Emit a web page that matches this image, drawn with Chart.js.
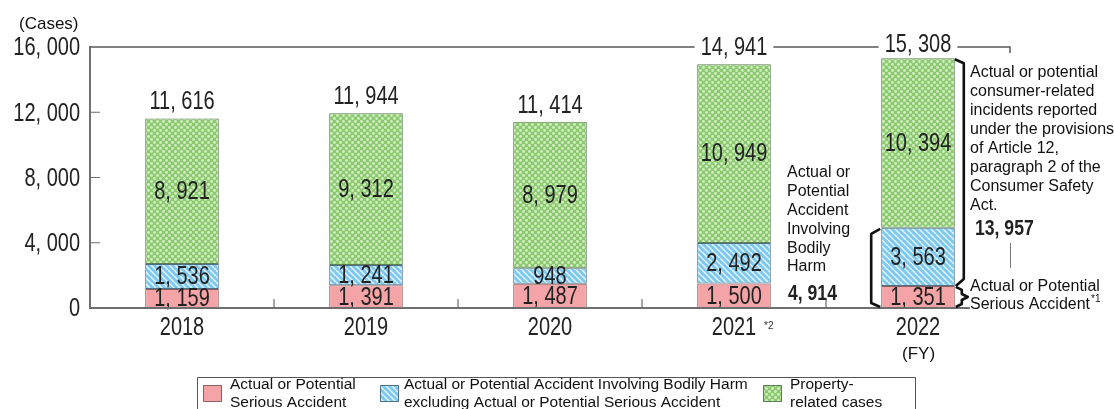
<!DOCTYPE html>
<html>
<head>
<meta charset="utf-8">
<script src="https://cdn.jsdelivr.net/npm/chart.js@4.4.1/dist/chart.umd.min.js"></script>
<style>
  html, body { margin: 0; padding: 0; background: #fff; }
  canvas { display: block; }
</style>
</head>
<body>
<canvas id="chart" width="1114" height="409"></canvas>
<script>
// ---- data ----
const years = ['2018', '2019', '2020', '2021', '2022'];
const seriousAccidents = [1159, 1391, 1487, 1500, 1351];
const bodilyHarmOther = [1536, 1241, 948, 2492, 3563];
const propertyCases = [8921, 9312, 8979, 10949, 10394];
const yTickValues = [0, 4000, 8000, 12000, 16000];
const seriesNames = [
  ['Actual or Potential', 'Serious Accident'],
  ['Actual or Potential Accident Involving Bodily Harm', 'excluding Actual or Potential Serious Accident'],
  ['Property-', 'related cases']
];

const totals = years.map((_, i) => seriousAccidents[i] + bodilyHarmOther[i] + propertyCases[i]);
const last = years.length - 1;
const bodilyHarmTotalLast = seriousAccidents[last] + bodilyHarmOther[last];
const reportedLast = bodilyHarmOther[last] + propertyCases[last];

// numbers are written with a comma followed by a space, e.g. "11, 616"
const fmt = v => Number(v).toLocaleString('en-US').replace(/,/g, ', ');

const TEXT_FAMILY = "'Liberation Sans', Arial, sans-serif";
const NARROW = 0.8;   // horizontal squeeze for the figures

// draws condensed figures; returns the drawn width
function narrowText(ctx, text, x, y, size, align, weight) {
  ctx.save();
  ctx.font = `${weight || 'normal'} ${size}px ${TEXT_FAMILY}`;
  ctx.textBaseline = 'middle';
  ctx.textAlign = 'left';
  const w = ctx.measureText(text).width * NARROW;
  const x0 = align === 'center' ? x - w / 2 : align === 'right' ? x - w : x;
  ctx.translate(x0, y);
  ctx.scale(NARROW, 1);
  ctx.fillText(text, 0, 0);
  ctx.restore();
  return w;
}

// ---- fills ----
function makePattern(size, draw) {
  const c = document.createElement('canvas');
  c.width = c.height = size;
  draw(c.getContext('2d'));
  return document.createElement('canvas').getContext('2d').createPattern(c, 'repeat');
}
const redFill = '#f4a4a7';
const blueFill = makePattern(6, g => {
  g.fillStyle = '#7cc8ee';
  g.fillRect(0, 0, 6, 6);
  g.strokeStyle = '#e6f5fd';
  g.lineWidth = 1.5;
  for (const o of [-6, 0, 6]) {
    g.beginPath(); g.moveTo(o, 0); g.lineTo(o + 6, 6); g.stroke();
  }
});
const greenFill = makePattern(6, g => {
  g.fillStyle = '#8cc971';
  g.fillRect(0, 0, 6, 6);
  g.fillStyle = '#d0efc0';
  const dot = (x, y) => { g.beginPath(); g.arc(x, y, 1.45, 0, Math.PI * 2); g.fill(); };
  dot(1.5, 1.5); dot(4.5, 4.5); dot(7.5, 1.5); dot(-1.5, 4.5); dot(1.5, 7.5); dot(4.5, -1.5);
});

// ---- labels, frame and callouts ----
const callouts = {
  id: 'callouts',
  afterDatasetsDraw(chart) {
    const { ctx, chartArea: area, scales } = chart;
    const xs = scales.x, ys = scales.y;
    const metas = [0, 1, 2].map(i => chart.getDatasetMeta(i));
    const bar = (d, i) => metas[d].data[i];
    ctx.save();

    // tick labels of both axes
    ctx.fillStyle = '#222';
    ys.ticks.forEach((t, i) => narrowText(ctx, fmt(t.value), area.left - 10, ys.getPixelForTick(i) + 1.5, 25, 'right'));
    xs.ticks.forEach((t, i) => narrowText(ctx, chart.data.labels[i], xs.getPixelForTick(i), area.bottom + 20, 25, 'center'));

    // segment values
    ctx.fillStyle = '#222';
    chart.data.datasets.forEach((ds, d) => {
      metas[d].data.forEach((el, i) => {
        narrowText(ctx, fmt(ds.data[i]), el.x, (el.y + el.base) / 2 + 1, 25, 'center');
      });
    });

    // totals above each bar; the tallest ones sit on the frame line
    const gaps = [];
    totals.forEach((t, i) => {
      const el = bar(2, i);
      const y = Math.max(area.top - 2, ys.getPixelForValue(t) - 16);
      const w = narrowText(ctx, fmt(t), el.x, y, 25, 'center');
      if (y < area.top + 12) gaps.push([el.x - w / 2 - 6, el.x + w / 2 + 6]);
    });

    // frame line along the top
    ctx.strokeStyle = '#5a5a5a';
    ctx.lineWidth = 1.5;
    let x0 = area.left;
    ctx.beginPath();
    gaps.forEach(([a, b]) => { ctx.moveTo(x0, area.top); ctx.lineTo(a, area.top); x0 = b; });
    ctx.moveTo(x0, area.top);
    ctx.lineTo(area.right, area.top);
    ctx.lineTo(area.right, area.top + 6);
    ctx.stroke();

    // baseline, stopping just past the last bar
    const lastBar = bar(2, last);
    ctx.strokeStyle = '#6e6e6e';
    ctx.lineWidth = 2;
    ctx.beginPath();
    ctx.moveTo(area.left, area.bottom);
    ctx.lineTo(lastBar.x + lastBar.width / 2 + 15, area.bottom);
    ctx.stroke();

    // small ticks between categories and on the value axis
    ctx.lineWidth = 1.2;
    ctx.beginPath();
    for (let i = 0; i < years.length - 1; i++) {
      const xm = (xs.getPixelForValue(i) + xs.getPixelForValue(i + 1)) / 2;
      ctx.moveTo(xm, area.bottom); ctx.lineTo(xm, area.bottom - 9);
    }
    yTickValues.slice(1, -1).forEach(v => {
      const y = ys.getPixelForValue(v);
      ctx.moveTo(area.left, y); ctx.lineTo(area.left + 10, y);
    });
    ctx.stroke();

    // callout brackets on the last bar
    const right = lastBar.x + lastBar.width / 2;
    const left = lastBar.x - lastBar.width / 2;
    const yTop = lastBar.y;
    const yRed = ys.getPixelForValue(seriousAccidents[last]);
    const yHarm = ys.getPixelForValue(bodilyHarmTotalLast);
    const y0 = area.bottom;
    ctx.strokeStyle = '#111';
    ctx.lineWidth = 2.6;
    ctx.lineJoin = 'round';
    ctx.beginPath();
    ctx.moveTo(right, yTop + 1); ctx.lineTo(right + 9, yTop + 5);
    ctx.lineTo(right + 9, yRed - 7); ctx.lineTo(right + 1, yRed);
    ctx.stroke();
    const mid = (yRed + y0) / 2;
    ctx.beginPath();
    ctx.moveTo(right + 1, yRed + 1); ctx.lineTo(right + 7, yRed + 4);
    ctx.lineTo(right + 7, mid - 3); ctx.lineTo(right + 13, mid);
    ctx.lineTo(right + 7, mid + 3); ctx.lineTo(right + 7, y0 - 4);
    ctx.lineTo(right + 1, y0 - 1);
    ctx.stroke();
    ctx.beginPath();
    ctx.moveTo(left - 1, yHarm + 1); ctx.lineTo(left - 10, yHarm + 6);
    ctx.lineTo(left - 10, y0 - 5); ctx.lineTo(left - 1, y0 - 1);
    ctx.stroke();

    // callout texts
    ctx.fillStyle = '#111';
    ctx.textAlign = 'left';
    ctx.textBaseline = 'middle';
    ctx.font = `16px ${TEXT_FAMILY}`;
    const harmLines = ['Actual or', 'Potential', 'Accident', 'Involving', 'Bodily', 'Harm'];
    harmLines.forEach((t, k) => ctx.fillText(t, 787, 173 + k * 18.8));
    const reportLines = ['Actual or potential', 'consumer-related', 'incidents reported', 'under the provisions',
      'of Article 12,', 'paragraph 2 of the', 'Consumer Safety', 'Act.'];
    reportLines.forEach((t, k) => ctx.fillText(t, 970, 73 + k * 19));
    ctx.fillText('Actual or Potential', 970, 287);
    ctx.fillText('Serious Accident', 970, 305);
    const wSA = ctx.measureText('Serious Accident').width;
    ctx.font = `10px ${TEXT_FAMILY}`;
    ctx.fillText('*1', 970 + wSA + 1, 299);

    ctx.fillStyle = '#222';
    narrowText(ctx, fmt(bodilyHarmTotalLast), 788, 294, 22, 'left', 'bold');
    narrowText(ctx, fmt(reportedLast), 975, 229, 22, 'left', 'bold');
    ctx.strokeStyle = '#777';
    ctx.lineWidth = 1;
    ctx.beginPath(); ctx.moveTo(1010.5, 243); ctx.lineTo(1010.5, 268); ctx.stroke();

    // footnote mark on 2021, unit labels
    ctx.fillStyle = '#333';
    ctx.font = `10px ${TEXT_FAMILY}`;
    ctx.fillText('*2', xs.getPixelForValue(3) + 30, 326);
    ctx.fillStyle = '#111';
    ctx.font = `17px ${TEXT_FAMILY}`;
    ctx.fillText('(Cases)', 19, 24);
    ctx.fillText('(FY)', 902, 354);

    // legend
    ctx.strokeStyle = '#555';
    ctx.lineWidth = 1;
    ctx.strokeRect(197.5, 377.5, 718, 40);
    const items = [[203, 230], [380, 404], [763, 790]];
    ctx.font = `15.5px ${TEXT_FAMILY}`;
    chart.data.datasets.forEach((ds, d) => {
      const [sx, tx] = items[d];
      ctx.fillStyle = ds.backgroundColor;
      ctx.fillRect(sx, 385, 19, 17);
      ctx.strokeStyle = ds.borderColor;
      ctx.strokeRect(sx + 0.5, 385.5, 18, 16);
      ctx.fillStyle = '#111';
      seriesNames[d].forEach((t, k) => ctx.fillText(t, tx, 385 + k * 18));
    });

    ctx.restore();
  }
};

new Chart(document.getElementById('chart'), {
  type: 'bar',
  data: {
    labels: years,
    datasets: [
      { label: seriesNames[0].join(' '), data: seriousAccidents, backgroundColor: redFill, borderColor: '#8a5f60' },
      { label: seriesNames[1].join(' '), data: bodilyHarmOther, backgroundColor: blueFill, borderColor: '#4f7088' },
      { label: seriesNames[2].join(' '), data: propertyCases, backgroundColor: greenFill, borderColor: '#5e7e56' }
    ]
  },
  options: {
    responsive: false,
    animation: false,
    devicePixelRatio: 1,
    layout: { padding: { left: 0, right: 104, top: 47, bottom: 0 } },
    datasets: { bar: { categoryPercentage: 1, barPercentage: 0.4, borderWidth: 1, borderSkipped: false } },
    plugins: { legend: { display: false }, tooltip: { enabled: false } },
    scales: {
      x: {
        stacked: true,
        grid: { display: false },
        border: { display: false },
        ticks: { display: false },
        afterFit(s) { s.height = 101; }
      },
      y: {
        stacked: true,
        min: 0,
        max: 16000,
        afterBuildTicks(s) { s.ticks = yTickValues.map(v => ({ value: v })); },
        grid: { display: false },
        border: { display: true, color: '#707070', width: 2 },
        ticks: { display: false },
        afterFit(s) { s.width = 90; }
      }
    }
  },
  plugins: [callouts]
});
</script>
</body>
</html>
